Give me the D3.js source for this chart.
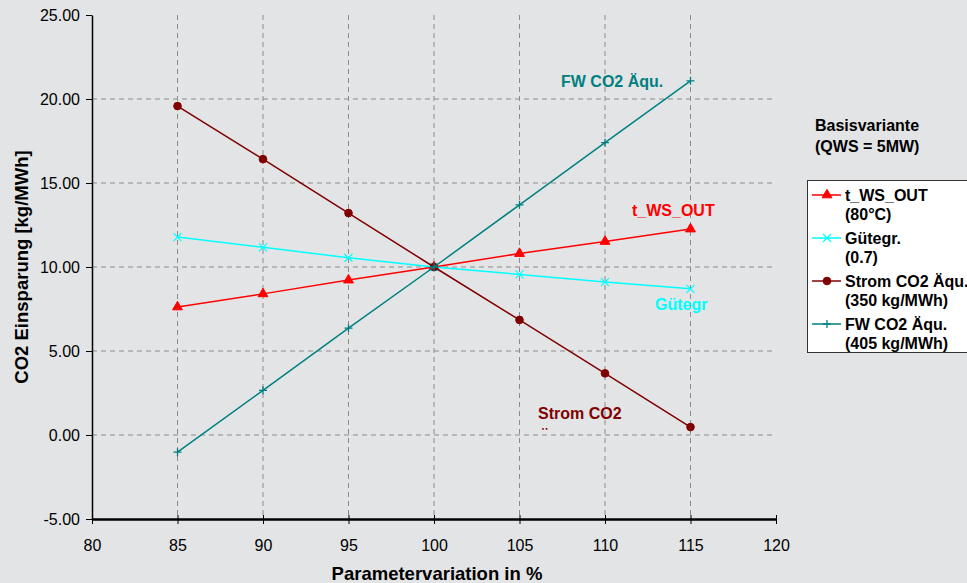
<!DOCTYPE html>
<html><head><meta charset="utf-8">
<script src="https://cdn.jsdelivr.net/npm/d3@7"></script>
<style>
html,body{margin:0;padding:0;background:#E3E4E6;}
svg{display:block;font-family:"Liberation Sans",Arial,sans-serif;}
</style></head>
<body><svg id="c" width="967" height="583"></svg>
<script>
const xValues = [85, 90, 95, 100, 105, 110, 115];
const tWsOut = [7.62, 8.40, 9.22, 10.00, 10.80, 11.52, 12.26];
const guetegr = [11.78, 11.17, 10.55, 10.00, 9.56, 9.10, 8.70];
const stromCO2 = [19.58, 16.42, 13.21, 10.00, 6.85, 3.67, 0.47];
const fwCO2 = [-1.02, 2.66, 6.36, 10.00, 13.70, 17.40, 21.08];
const xTicks = [80, 85, 90, 95, 100, 105, 110, 115, 120];
const yTicks = [-5, 0, 5, 10, 15, 20, 25];
const seriesNames = ["t_WS_OUT", "Gütegr.", "Strom CO2 Äqu.", "FW CO2 Äqu."];
const seriesSub = ["(80°C)", "(0.7)", "(350 kg/MWh)", "(405 kg/MWh)"];
const seriesLabels = ["t_WS_OUT", "Gütegr", "Strom CO2", "FW CO2 Äqu."];

const colors = ["#FF0000", "#00FFFF", "#800000", "#008080"];
const symbols = [d3.symbolTriangle, "x", d3.symbolCircle, "plus"];
const allSeries = [tWsOut, guetegr, stromCO2, fwCO2];

const svg = d3.select("#c");
const L = 92, R = 776, T = 15, B = 519;
const x = d3.scaleLinear().domain([80, 120]).range([L, R]);
const y = d3.scaleLinear().domain([-5, 25]).range([B, T]);

// grid
const g = svg.append("g");
g.selectAll(".vg").data(xTicks.filter(d => d > 80 && d < 120)).enter().append("line")
  .attr("x1", d => x(d)).attr("x2", d => x(d)).attr("y1", T).attr("y2", B)
  .attr("stroke", "#8c8c8c").attr("stroke-width", 1).attr("stroke-dasharray", "5,4");
g.selectAll(".hg").data(yTicks.filter(d => d > -5 && d < 25)).enter().append("line")
  .attr("x1", L).attr("x2", R).attr("y1", d => y(d)).attr("y2", d => y(d))
  .attr("stroke", "#8c8c8c").attr("stroke-width", 1).attr("stroke-dasharray", "5,4");

// axes
const xAxis = d3.axisBottom(x).tickValues(xTicks).tickFormat(d3.format("d")).tickSizeInner(5).tickSizeOuter(0);
const gx = svg.append("g").attr("transform", `translate(0,${B})`).call(xAxis);
gx.select(".domain").attr("stroke", "#000").attr("stroke-width", 2.5);
gx.selectAll(".tick line").attr("stroke", "#000").attr("y1", -4).attr("y2", 5);
gx.selectAll(".tick text").attr("font-size", 16).attr("fill", "#000").attr("font-family", "Liberation Sans, Arial")
  .attr("y", 32).attr("dy", null);

const fmtY = d => d.toFixed(2);
const yAxis = d3.axisLeft(y).tickValues(yTicks).tickFormat(fmtY).tickSizeInner(6).tickSizeOuter(0);
const gy = svg.append("g").attr("transform", `translate(${L},0)`).call(yAxis);
gy.select(".domain").attr("stroke", "#000").attr("stroke-width", 1.5);
gy.selectAll(".tick line").attr("stroke", "#000");
gy.selectAll(".tick text").attr("font-size", 16).attr("fill", "#000").attr("font-family", "Liberation Sans, Arial").attr("x", -12);

// axis titles
svg.append("text").attr("x", x(100) + 3).attr("y", 580).attr("text-anchor", "middle")
  .attr("font-size", 18.5).attr("font-weight", "bold").text("Parametervariation in %");
svg.append("text").attr("transform", `translate(28,${y(10)}) rotate(-90)`).attr("text-anchor", "middle")
  .attr("font-size", 18.5).attr("font-weight", "bold").text("CO2 Einsparung [kg/MWh]");

function drawMarker(sel, type, color, size) {
  if (type === "x") {
    const s = size;
    sel.append("path").attr("d", `M${-s},${-s}L${s},${s}M${-s},${s}L${s},${-s}`).attr("stroke", color).attr("stroke-width", 1.3).attr("fill", "none");
  } else if (type === "plus") {
    const s = size;
    sel.append("path").attr("d", `M${-s},0L${s},0M0,${-s}L0,${s}`).attr("stroke", color).attr("stroke-width", 1.3).attr("fill", "none");
  } else {
    const area = type === d3.symbolTriangle ? 42 : 46;
    sel.append("path").attr("d", d3.symbol().type(type).size(area)()).attr("fill", color).attr("stroke", color);
  }
}

const line = d3.line().x((d, i) => x(xValues[i])).y(d => y(d));
allSeries.forEach((s, k) => {
  svg.append("path").datum(s).attr("d", line).attr("fill", "none").attr("stroke", colors[k]).attr("stroke-width", 1.5);
  s.forEach((v, i) => {
    const m = svg.append("g").attr("transform", `translate(${x(xValues[i])},${y(v)})`);
    drawMarker(m, symbols[k], colors[k], 4);
  });
});

// in-chart labels
const labelPos = [[632, 216], [655, 310], [538, 419], [561, 87]];
seriesLabels.forEach((t, k) => {
  svg.append("text").attr("x", labelPos[k][0]).attr("y", labelPos[k][1]).attr("font-size", 16).attr("font-weight", "bold")
    .attr("fill", colors[k]).text(t);
});
// clipped second line of Strom label
svg.append("clipPath").attr("id", "clipS").append("rect").attr("x", 530).attr("y", 424).attr("width", 100).attr("height", 6);
svg.append("text").attr("x", 539).attr("y", 442).attr("font-size", 16).attr("font-weight", "bold")
  .attr("fill", colors[2]).attr("clip-path", "url(#clipS)").text("Äqu.");

// legend
svg.append("text").attr("x", 815).attr("y", 131).attr("font-size", 16).attr("font-weight", "bold").text("Basisvariante");
svg.append("text").attr("x", 815).attr("y", 152).attr("font-size", 16).attr("font-weight", "bold").text("(QWS = 5MW)");
svg.append("rect").attr("x", 807.5).attr("y", 180.5).attr("width", 170).attr("height", 172)
  .attr("fill", "#fff").attr("stroke", "#333").attr("stroke-width", 1);
seriesNames.forEach((n, k) => {
  const yy = 195 + k * 43;
  svg.append("line").attr("x1", 812).attr("x2", 841).attr("y1", yy).attr("y2", yy).attr("stroke", colors[k]).attr("stroke-width", 1.5);
  const m = svg.append("g").attr("transform", `translate(827,${yy})`);
  drawMarker(m, symbols[k], colors[k], 4);
  svg.append("text").attr("x", 845).attr("y", yy + 6).attr("font-size", 16).attr("font-weight", "bold").text(n);
  svg.append("text").attr("x", 845).attr("y", yy + 25).attr("font-size", 16).attr("font-weight", "bold").text(seriesSub[k]);
});
</script></body></html>
